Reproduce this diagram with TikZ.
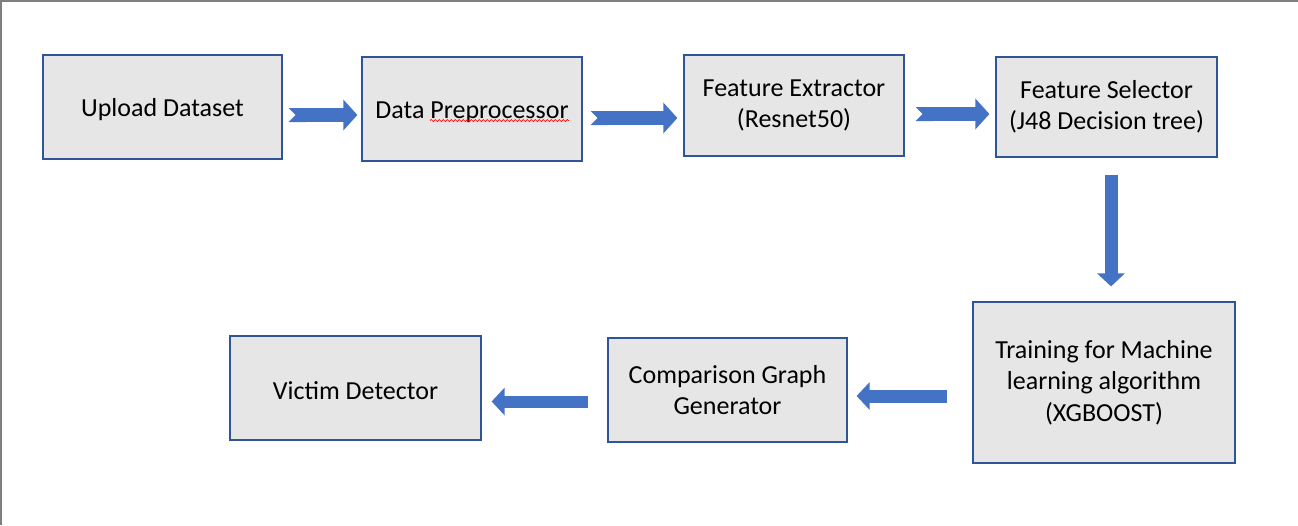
\documentclass[tikz,border=0pt]{standalone}
\usepackage{fontspec}
\setmainfont{Carlito}
\usepackage{tikz}
\usetikzlibrary{calc,arrows.meta,decorations.pathmorphing}
\definecolor{boxfill}{HTML}{E6E6E6}
\definecolor{boxline}{HTML}{2F5597}
\definecolor{flowblue}{HTML}{4472C4}
\definecolor{framegray}{HTML}{7F7F7F}
\tikzset{
 blk/.style={draw=boxline,fill=boxfill,line width=1.2pt,align=center,inner sep=0pt,
  font=\fontsize{26}{31.5}\selectfont,execute at begin node={\rule{0pt}{23.5pt}}},
 notched/.style={draw=flowblue,line width=14pt,{Triangle Cap[reversed]}-{Triangle[width=30pt,length=14pt]}},
 blockarrow/.style={draw=flowblue,line width=13pt,-{Triangle[width=27pt,length=13pt]}}
}

\begin{document}
\begin{tikzpicture}[x=1pt,y=-1pt]
\useasboundingbox (0,0) rectangle (1298,525);
\draw[framegray,line width=3pt] (0,525) -- (0,0) -- (1298,0);

\node[blk,minimum width=239pt,minimum height=104pt] (up) at (162.5,107) {Upload Dataset};
\node[blk,minimum width=220pt,minimum height=104pt] (pre) at (472,109) {Data Preprocessor};
\node[blk,minimum width=220pt,minimum height=101pt] (fext) at (794,105.5) {Feature Extractor\\(Resnet50)};
\node[blk,minimum width=221pt,minimum height=100pt] (fsel) at (1106.5,107) {Feature Selector\\(J48 Decision tree)};
\node[blk,minimum width=262pt,minimum height=161pt] (train) at (1104,382.5) {Training for Machine\\learning algorithm\\(XGBOOST)};
\node[blk,minimum width=239pt,minimum height=104pt] (comp) at (727.5,390) {Comparison Graph\\Generator};
\node[blk,minimum width=251pt,minimum height=104pt] (vic) at (355.5,388) {Victim Detector};

\draw[red,line width=0.7pt,decorate,decoration={snake,amplitude=1pt,segment length=4pt}]
 ($(pre.center)+(-42,11.5)$) -- ($(pre.center)+(97,11.5)$);

\draw[notched] ($(up.east)+(6,8)$) -- ($(pre.west)+(-4,6)$);
\draw[notched] ($(pre.east)+(8,9)$) -- ($(fext.west)+(-6,12.5)$);
\draw[notched] ($(fext.east)+(11,8.5)$) -- ($(fsel.west)+(-6,7)$);
\draw[blockarrow] ($(fsel.south)+(4.5,17)$) -- ($(train.north)+(7,-15)$);
\draw[blockarrow] ($(train.west)+(-25,13.5)$) -- ($(comp.east)+(9,6)$);
\draw[blockarrow,line width=12pt] ($(comp.west)+(-19,11.5)$) -- ($(vic.east)+(10,13.5)$);
\end{tikzpicture}
\end{document}
